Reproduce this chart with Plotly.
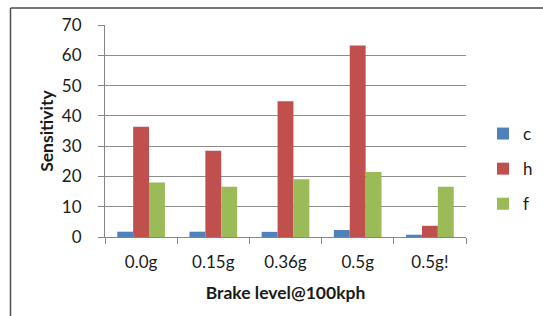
import plotly.graph_objects as go

categories = ["0.0g", "0.15g", "0.36g", "0.5g", "0.5g!"]
c_vals = [1.75, 1.75, 1.7, 2.3, 0.75]
h_vals = [36.4, 28.5, 44.8, 63.2, 3.7]
f_vals = [18.0, 16.6, 19.1, 21.5, 16.6]
y_ticks = [0, 10, 20, 30, 40, 50, 60, 70]

colors = {"c": "#4F81BD", "h": "#C0504D", "f": "#9BBB59"}
FONT = "Lato"
TXT = "#1a1a1a"

fig = go.Figure()
for name, vals in [("c", c_vals), ("h", h_vals), ("f", f_vals)]:
    fig.add_trace(go.Bar(x=categories, y=vals, name=name, legendgroup=name,
                         marker=dict(color=colors[name], line=dict(width=0))))

W, H = 543, 316
L, R, T, B = 105, 77, 25, 79
pw, ph = W - L - R, H - T - B

def px_x(x):
    return (x - L) / pw

def px_y(y):
    return (H - B - y) / ph

BORDER = dict(color="#4d4d4d", width=1.5)

fig.update_layout(
    width=W, height=H,
    margin=dict(l=L, r=R, t=T, b=B, autoexpand=False),
    paper_bgcolor="white", plot_bgcolor="white",
    barmode="group", bargap=0.34, bargroupgap=0,
    font=dict(family=FONT, color=TXT, size=16),
    showlegend=True,
    legend=dict(x=px_x(483), y=px_y(116), xanchor="left", yanchor="top",
                font=dict(size=17, color=TXT), itemwidth=30,
                tracegroupgap=10, traceorder="grouped", bgcolor="rgba(0,0,0,0)"),
    xaxis=dict(
        type="category", showline=True, linecolor="#868686", linewidth=1,
        ticks="outside", ticklen=6, tickcolor="#868686", tickson="boundaries",
        showgrid=False, tickfont=dict(size=17, family=FONT, color=TXT),
        ticklabelstandoff=10,
        title=dict(text="<b>Brake level@100kph</b>", font=dict(size=17.5, family=FONT, color=TXT), standoff=15),
    ),
    yaxis=dict(
        range=[0, 70], tickvals=y_ticks, showline=True, linecolor="#868686", linewidth=1,
        ticks="outside", ticklen=6, tickcolor="#868686",
        showgrid=True, gridcolor="#8C8C8C", gridwidth=1, zeroline=False,
        tickfont=dict(size=17, family=FONT, color=TXT), ticklabelstandoff=13,
        title=dict(text="<b>Sensitivity</b>", font=dict(size=17.5, family=FONT, color=TXT), standoff=3),
    ),
    shapes=[
        dict(type="line", xref="paper", yref="paper",
             x0=px_x(10.5), y0=px_y(8), x1=px_x(560), y1=px_y(8), line=BORDER),
        dict(type="line", xref="paper", yref="paper",
             x0=px_x(10.5), y0=px_y(8), x1=px_x(10.5), y1=px_y(330), line=BORDER),
    ],
)

fig.write_html("out.html", config={"displayModeBar": False},
               post_script="document.body.style.margin='0px';document.body.style.padding='0px';")
